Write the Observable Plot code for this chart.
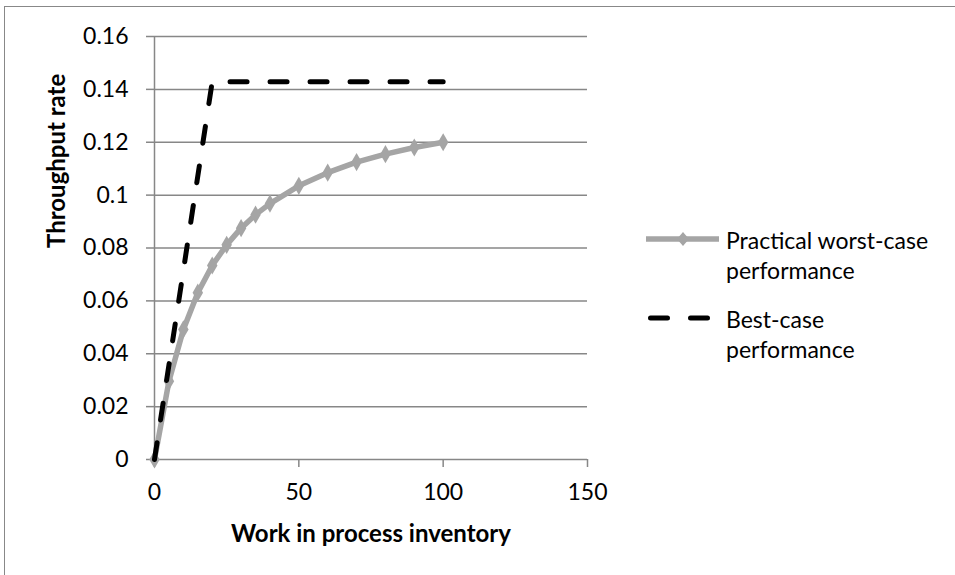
<!DOCTYPE html>
<html><head><meta charset="utf-8">
<script src="https://cdn.jsdelivr.net/npm/d3@7"></script>
<script src="https://cdn.jsdelivr.net/npm/@observablehq/plot@0.6"></script>
<style>
body{margin:0;overflow:hidden;background:#fff;font-family:Lato,sans-serif;}
#wrap{position:relative;width:955px;height:575px;overflow:hidden;}
#frame{position:absolute;left:4px;top:6px;width:1200px;height:1200px;border:1.5px solid #888;box-sizing:border-box;}
#chart{position:absolute;left:0;top:0;}
#legend{position:absolute;left:640px;top:225px;font-size:23px;color:#000;line-height:30px;}
.row{display:flex;align-items:flex-start;margin-bottom:19px;}
.row svg{flex:none;}
</style></head><body>
<div id="wrap"><div id="frame"></div><div id="chart"></div><div id="legend"></div></div>
<script>
const wip = [0, 5, 10, 15, 20, 25, 30, 35, 40, 50, 60, 70, 80, 90, 100];
const worstCase = [0, 0.0296, 0.0492, 0.0631, 0.0734, 0.0812, 0.0875, 0.0926, 0.0968, 0.1035, 0.1085, 0.1125, 0.1155, 0.118, 0.120];
const bestWip = [0, 20, 100];
const bestCase = [0, 0.1429, 0.1429];
const yTicks = [0, 0.02, 0.04, 0.06, 0.08, 0.1, 0.12, 0.14, 0.16];
const xTicks = [0, 50, 100, 150];
const seriesNames = ["Practical worst-case performance", "Best-case performance"];
const xTitle = "Work in process inventory";
const yTitle = "Throughput rate";

const gray = "#a5a5a5";
const gridColor = "#878787";

const worstData = wip.map((w, i) => ({x: w, y: worstCase[i]}));
const bestData = bestWip.map((w, i) => ({x: w, y: bestCase[i]}));

const chart = Plot.plot({
  width: 955, height: 575,
  marginLeft: 154, marginRight: 368, marginTop: 36, marginBottom: 116,
  style: {fontFamily: "Lato, sans-serif", fontSize: "23px", color: "#000", background: "transparent", overflow: "visible"},
  x: {domain: [0, 150], ticks: xTicks, label: null},
  y: {domain: [0, 0.16], ticks: yTicks, label: null},
  marks: [
    Plot.ruleY(yTicks.slice(1), {stroke: gridColor, strokeWidth: 1.5}),
    Plot.axisY({ticks: yTicks, tickSize: 8, tickPadding: 18, stroke: gridColor, strokeWidth: 1.5, tickFormat: d => d3.format("~g")(d), label: null, fill: "#000"}),
    Plot.axisX({ticks: xTicks, tickSize: 8, tickPadding: 16, stroke: gridColor, strokeWidth: 1.5, tickFormat: d => String(d), label: null, fill: "#000"}),
    Plot.ruleX([0], {stroke: gridColor, strokeWidth: 1.5}),
    Plot.ruleY([0], {stroke: gridColor, strokeWidth: 1.5}),
    Plot.line(worstData, {x: "x", y: "y", stroke: gray, strokeWidth: 5.5}),
    Plot.dot(worstData, {x: "x", y: "y", symbol: "diamond", r: 5.5, fill: gray, stroke: null}),
    Plot.line(bestData, {x: "x", y: "y", stroke: "#000", strokeWidth: 5, strokeDasharray: "17,23", strokeLinecap: "round"}),
    Plot.text([xTitle], {frameAnchor: "bottom", dy: 82, fontWeight: "bold", fontSize: 24, fill: "#000"}),
    Plot.text([yTitle], {frameAnchor: "left", dx: -97, rotate: -90, fontWeight: "bold", fontSize: 24, fill: "#000"})
  ]
});
document.getElementById("chart").appendChild(chart);

// Legend
const legend = document.getElementById("legend");
function splitName(n) { const i = n.lastIndexOf(" "); return [n.slice(0, i), n.slice(i + 1)]; }
seriesNames.forEach((name, k) => {
  const row = document.createElement("div");
  row.className = "row";
  const ns = "http://www.w3.org/2000/svg";
  const sw = document.createElementNS(ns, "svg");
  sw.setAttribute("width", 86); sw.setAttribute("height", 30);
  if (k === 0) {
    sw.innerHTML = `<line x1="6" x2="79" y1="14" y2="14" stroke="${gray}" stroke-width="5.5"/>` +
      `<path d="M43,7 L49,14 L43,21 L37,14 Z" fill="${gray}"/>`;
  } else {
    sw.innerHTML = `<line x1="10.5" x2="67.5" y1="14" y2="14" stroke="#000" stroke-width="5" stroke-dasharray="17,23" stroke-linecap="round"/>`;
  }
  row.appendChild(sw);
  const t = document.createElement("div");
  const [a, b] = splitName(name);
  t.innerHTML = a + "<br>" + b;
  row.appendChild(t);
  legend.appendChild(row);
});
</script>
</body></html>
